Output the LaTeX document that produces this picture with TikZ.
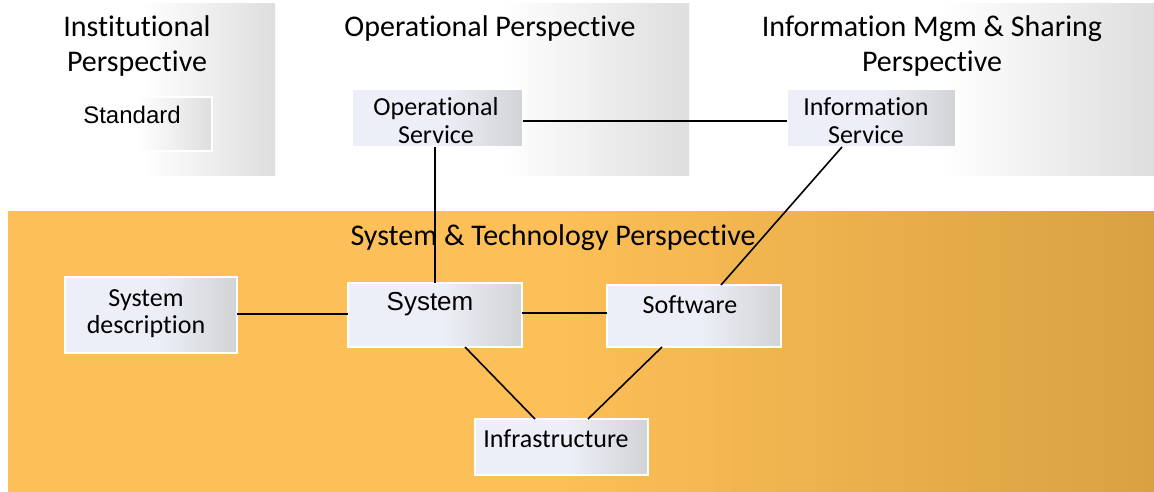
\documentclass[tikz,border=0pt]{standalone}
\usepackage{fontspec}
\setmainfont{Carlito}[Ligatures=NoCommon]
\newfontfamily\arialf{Liberation Sans}
\usetikzlibrary{calc}
\definecolor{boxL}{HTML}{ECEFF7}
\definecolor{boxR}{HTML}{D2D3D7}
\definecolor{panL}{HTML}{FFFFFF}
\definecolor{panR}{HTML}{DEDEDE}
\definecolor{orL}{HTML}{FDBF57}
\definecolor{orR}{HTML}{D9A142}
\pgfdeclarehorizontalshading{panelshade}{100bp}{color(0bp)=(panL); color(50bp)=(panL); color(75bp)=(panR); color(100bp)=(panR)}
\pgfdeclarehorizontalshading{boxshade}{100bp}{color(0bp)=(boxL); color(52bp)=(boxL); color(75bp)=(boxR); color(100bp)=(boxR)}
\pgfdeclarehorizontalshading{bandshade}{100bp}{color(0bp)=(orL); color(49bp)=(orL); color(75bp)=(orR); color(100bp)=(orR)}
\begin{document}
\begin{tikzpicture}[x=1pt,y=-1pt,
  panel/.style={shading=panelshade, draw=none, inner sep=0pt, outer sep=0pt, anchor=north west},
  band/.style={shading=bandshade, draw=none, inner sep=0pt, outer sep=0pt, anchor=north west},
  box/.style={shading=boxshade, draw=white, line width=1.2pt, inner sep=0pt, outer sep=0pt, anchor=north west},
  stdbox/.style={shading=panelshade, draw=white, line width=1.2pt, inner sep=0pt, outer sep=0pt, anchor=north west},
  ttl/.style={font=\fontsize{30}{36}\selectfont, anchor=base, inner sep=0pt},
  lbl/.style={font=\fontsize{26}{30}\selectfont, anchor=base, inner sep=0pt},
  albl/.style={font=\arialf\fontsize{25}{30}\selectfont, anchor=base, inner sep=0pt},
  link/.style={line width=1.6pt, black}]
\useasboundingbox (0,0) rectangle (1154,492);
\fill[white] (0,0) rectangle (1154,492);
% panels
\node[panel, minimum width=265pt, minimum height=171pt] (p1) at (10,4) {};
\node[panel, minimum width=374pt, minimum height=171pt] (p2) at (315,4) {};
\node[panel, minimum width=421pt, minimum height=171pt] (p3) at (733,4) {};
\node[band, minimum width=1146pt, minimum height=281pt] (bd) at (8,211) {};
% boxes
\node[stdbox, minimum width=147pt, minimum height=54pt] (std) at (65,97) {};
\node[box, minimum width=171pt, minimum height=58pt] (os) at (352,89) {};
\node[box, minimum width=169pt, minimum height=58pt] (is) at (787,89) {};
\node[box, minimum width=172pt, minimum height=76pt] (sd) at (65,277) {};
\node[box, minimum width=174pt, minimum height=64pt] (sys) at (348,283) {};
\node[box, minimum width=174pt, minimum height=62pt] (sw) at (607,285) {};
\node[box, minimum width=173pt, minimum height=56pt] (inf) at (475,419) {};
% titles
\node[ttl] (t1a) at (137,37) {Institutional};
\node[ttl] (t1b) at (137,72) {Perspective};
\node[ttl] (t2) at (490,37) {Operational Perspective};
\node[ttl] (t3a) at (932,37) {Information Mgm \& Sharing};
\node[ttl] (t3b) at (932,72) {Perspective};
\node[ttl] (t4) at (553,245) {System \& Technology Perspective};
% box texts
\node[albl, font=\arialf\fontsize{24}{28}\selectfont] (stdt) at (132,124) {Standard};
\node[lbl] (os1) at (436,116) {Operational};
\node[lbl] (os2) at (436,144) {Service};
\node[lbl] (is1) at (866,116) {Information};
\node[lbl] (is2) at (866,144) {Service};
\node[lbl] (sd1) at (146,306) {System};
\node[lbl] (sd2) at (146,333) {description};
\node[albl, font=\arialf\fontsize{26}{30}\selectfont] (syst) at (430,310) {System};
\node[lbl] (swt) at (690,313) {Software};
\node[lbl] (inft) at (556,447) {Infrastructure};
% links
\draw[link] ($(os.north east)+(0,32)$) -- ($(is.north west)+(0,32)$);
\draw[link] ($(os.south west)+(83,0)$) -- ($(sys.north west)+(87,0)$);
\draw[link] ($(is.south west)+(55,0)$) -- ($(sw.north west)+(114,0)$);
\draw[link] ($(sd.north east)+(0,37)$) -- ($(sys.north west)+(0,31)$);
\draw[link] ($(sys.north east)+(0,30)$) -- ($(sw.north west)+(0,28)$);
\draw[link] ($(sys.south west)+(117,0)$) -- ($(inf.north west)+(60,0)$);
\draw[link] ($(sw.south west)+(55,0)$) -- ($(inf.north west)+(113,0)$);
\end{tikzpicture}
\end{document}
